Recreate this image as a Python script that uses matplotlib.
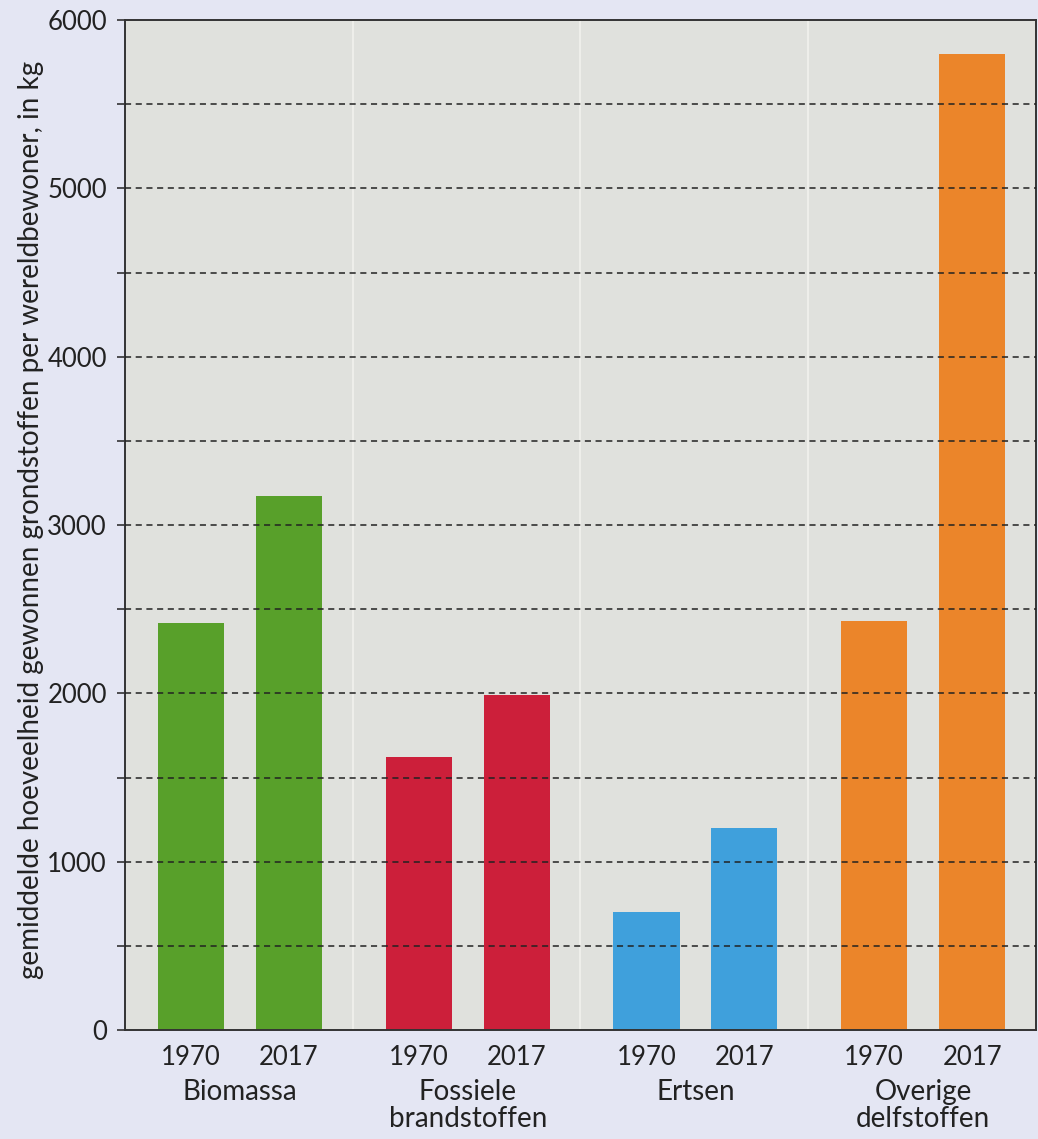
import matplotlib.pyplot as plt

# Data
categories = ["Biomassa", "Fossiele\nbrandstoffen", "Ertsen", "Overige\ndelfstoffen"]
years = ["1970", "2017"]
values_1970 = [2420, 1620, 700, 2430]
values_2017 = [3170, 1990, 1200, 5800]
colors = ["#58a02a", "#cc1f3a", "#3fa0dc", "#eb852a"]

plt.rcParams["font.family"] = ["Lato", "DejaVu Sans"]

fig = plt.figure(figsize=(10.38, 11.39), dpi=100, facecolor="#e4e6f3")
ax = fig.add_axes([0.1204, 0.0957, 0.8776, 0.8867])
ax.set_facecolor("#e0e1dd")

width = 0.29
x1 = [i + 0.29 for i in range(len(categories))]
x2 = [i + 0.72 for i in range(len(categories))]
ax.bar(x1, values_1970, width=width, color=colors, zorder=1)
ax.bar(x2, values_2017, width=width, color=colors, zorder=1)

# faint separators between groups
for i in range(1, len(categories)):
    ax.axvline(i, color="#eeeeea", lw=1.5, zorder=0.5)

ax.set_xlim(0, len(categories))
ax.set_ylim(0, 6000)
ax.set_yticks(range(0, 6001, 1000))
ax.set_yticks(range(500, 6000, 1000), minor=True)
ax.tick_params(axis="y", which="both", length=6, width=1.2, pad=7, labelsize=18.5, color="#333333")
ax.tick_params(axis="y", which="major", labelcolor="#222222")

# dashed gridlines every 500, on top of bars
for v in range(500, 6000, 500):
    ax.axhline(v, color="#222222", lw=1.1, linestyle=(0, (4, 3)), zorder=3)

ax.set_xticks(x1 + x2)
ax.set_xticklabels([years[0]] * 4 + [years[1]] * 4, fontsize=18.5, color="#222222")
ax.tick_params(axis="x", length=0, pad=11)

for i, cat in enumerate(categories):
    ax.annotate(cat, xy=(i + 0.505, 0), xycoords=("data", "axes fraction"),
                xytext=(0, -35), textcoords="offset points",
                ha="center", va="top", fontsize=20, color="#222222", linespacing=1.08)

for s in ax.spines.values():
    s.set_color("#333333")
    s.set_linewidth(1.4)

ax.set_ylabel("gemiddelde hoeveelheid gewonnen grondstoffen per wereldbewoner, in kg",
              fontsize=20, color="#222222")
ax.yaxis.set_label_coords(-0.089, 0.505)

fig.savefig("out.png", dpi=100, facecolor=fig.get_facecolor())
